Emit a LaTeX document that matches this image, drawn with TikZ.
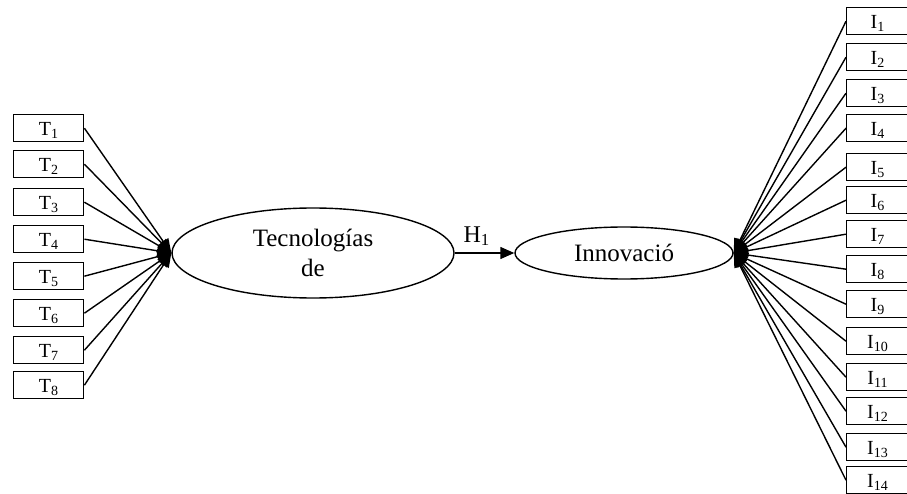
\documentclass[tikz,border=0pt]{standalone}
\usepackage{fontspec}
\setmainfont{Liberation Serif}
\usetikzlibrary{arrows.meta,shapes.geometric}

\begin{document}
\begin{tikzpicture}[x=1pt,y=-1pt,
  box/.style={draw, line width=1.4pt, anchor=north west, minimum width=70pt,
    inner xsep=0pt, inner ysep=0pt, text height=21pt, text depth=6pt,
    font=\fontsize{20}{24}\selectfont},
  latent/.style={draw, ellipse, line width=1.4pt, inner sep=0pt, align=center,
    font=\fontsize{25}{30}\selectfont},
  link/.style={line width=1.4pt, -{Triangle[length=14pt,width=12pt]}}]
\useasboundingbox (0,0) rectangle (907,494);

\node[latent, minimum width=282pt, minimum height=90pt] (tec) at (313,253) {Tecnologías\\de};
\node[latent, minimum width=218pt, minimum height=52pt] (inn) at (624,253) {Innovació};

\draw[link] (tec.east) -- node[above=3pt, pos=0.37, font=\fontsize{24}{28}\selectfont] (h1) {H\textsubscript{1}} (inn.west);

% indicators of the first construct
\foreach \k/\y in {1/114,2/150,3/188,4/225,5/262,6/299,7/336,8/371}{
  \node[box] (t\k) at (13,\y) {T\textsubscript{\k}};
  \draw[link] (t\k.east) -- (tec.west);
}

% indicators of the second construct
\foreach \k/\y in {1/7,2/43,3/79,4/114,5/153,6/186,7/220,8/255,9/290,10/327,11/363,12/397,13/433,14/466}{
  \node[box, minimum width=62pt] (i\k) at (846,\y) {I\textsubscript{\k}};
  \draw[link] (i\k.west) -- (inn.east);
}
\end{tikzpicture}
\end{document}
